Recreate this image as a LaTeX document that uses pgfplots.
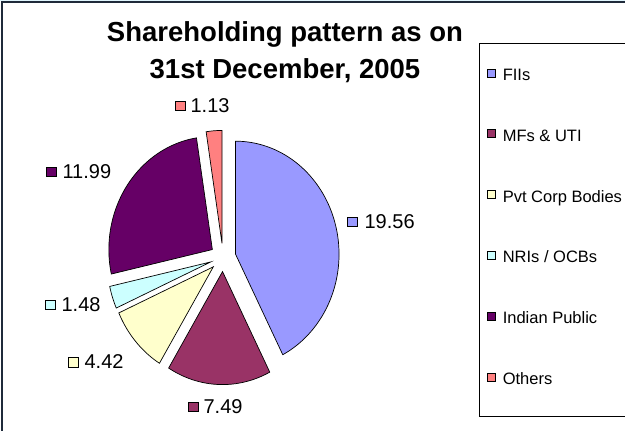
\documentclass[border=0pt]{standalone}
\usepackage{fontspec}
\setmainfont{Liberation Sans}
\usepackage{pgfplots}
\usepackage{pgfplotstable}
\pgfplotsset{compat=1.18}
\definecolor{cFII}{HTML}{9999FF}
\definecolor{cMF}{HTML}{993366}
\definecolor{cPvt}{HTML}{FFFFCC}
\definecolor{cNRI}{HTML}{CCFFFF}
\definecolor{cInd}{HTML}{660066}
\definecolor{cOth}{HTML}{FF8080}
\definecolor{frame}{HTML}{1F2A3A}

\pgfplotstableread[col sep=comma]{
name,value
FIIs,19.56
MFsUTI,7.49
PvtCorp,4.42
NRIsOCBs,1.48
IndianPublic,11.99
Others,1.13
}\sharedata

\newcommand\keybox[1]{\raisebox{2.4pt}{\setlength\fboxsep{0pt}\setlength\fboxrule{0.7pt}\fcolorbox{black}{#1}{\rule{0pt}{9pt}\rule{9pt}{0pt}}}}
\newcommand\lblfont{\fontsize{20}{22}\selectfont}

\def\cx{223}\def\cy{173.5}\def\rx{103.5}\def\ry{113}\def\ex{12.9}\def\ey{14.1}

\begin{document}
\begin{tikzpicture}
\useasboundingbox (0,0) rectangle (625pt,431pt);
\gdef\total{0}
\foreach \i in {0,...,5}{%
  \pgfplotstablegetelem{\i}{value}\of\sharedata
  \pgfmathparse{\total+\pgfplotsretval}\xdef\total{\pgfmathresult}}
\gdef\cum{90}
\foreach \i in {0,...,5}{%
  \pgfplotstablegetelem{\i}{value}\of\sharedata
  \pgfmathsetmacro\sweep{360*\pgfplotsretval/\total}
  \pgfmathsetmacro\endang{\cum-\sweep}
  \pgfmathsetmacro\midang{\cum-0.5*\sweep}
  \pgfmathsetmacro\apx{\cx+\ex*cos(\midang)}
  \pgfmathsetmacro\apy{\cy+\ey*sin(\midang)}
  \expandafter\xdef\csname st\i\endcsname{\cum}
  \expandafter\xdef\csname en\i\endcsname{\endang}
  \expandafter\xdef\csname ax\i\endcsname{\apx}
  \expandafter\xdef\csname ay\i\endcsname{\apy}
  \xdef\cum{\endang}
}
\begin{axis}[
  x=1pt, y=1pt, xmin=0, xmax=625, ymin=0, ymax=431,
  scale only axis, hide axis, clip=false,
  anchor=origin, at={(0,0)},
  legend cell align=left,
  legend image code/.code={\draw[#1, line width=0.6pt] (0pt,-0.5pt) rectangle (8pt,7.5pt);},
  legend style={draw=none, fill=none, at={(axis cs:487,362.5)}, anchor=north west,
    inner sep=0pt, row sep=46pt, column sep=7pt, font=\fontsize{16.5}{18}\selectfont,
    nodes={text height=11pt, text depth=3pt, inner ysep=0pt, inner xsep=0pt}},
]
% frame of the chart area
\fill[cyan!12] (axis cs:0,429.5) rectangle (axis cs:625,431);
\draw[frame, line width=1.2pt] (axis cs:2,-5) -- (axis cs:2,429) -- (axis cs:640,429);
% legend box
\draw[black, line width=0.8pt] (axis cs:479,15) rectangle (axis cs:660,388);

\foreach \i/\c in {0/cFII,1/cMF,2/cPvt,3/cNRI,4/cInd,5/cOth}{%
  \edef\temp{\noexpand\addplot[draw=black, line width=0.7pt, fill=\c,
     domain=\csname en\i\endcsname:\csname st\i\endcsname, samples=90]
     ({\csname ax\i\endcsname+\rx*cos(x)},{\csname ay\i\endcsname+\ry*sin(x)})
     -- (axis cs:\csname ax\i\endcsname,\csname ay\i\endcsname) -- cycle;}%
  \temp
}
\legend{FIIs,MFs \& UTI,Pvt Corp Bodies,NRIs / OCBs,Indian Public,Others}

% title
\node[anchor=base, font=\bfseries\fontsize{27.5}{30}\selectfont] at (axis cs:285,389.3) {Shareholding pattern as on};
\node[anchor=base, font=\bfseries\fontsize{27.5}{30}\selectfont] at (axis cs:285,352.7) {31st December, 2005};

% data labels
\node[anchor=west, inner sep=0pt, font=\lblfont] at (axis cs:347,209) {\keybox{cFII}\hspace{7pt}19.56};
\node[anchor=west, inner sep=0pt, font=\lblfont] at (axis cs:188,24) {\keybox{cMF}\hspace{5pt}7.49};
\node[anchor=west, inner sep=0pt, font=\lblfont] at (axis cs:68,69) {\keybox{cPvt}\hspace{6pt}4.42};
\node[anchor=west, inner sep=0pt, font=\lblfont] at (axis cs:45,126) {\keybox{cNRI}\hspace{6pt}1.48};
\node[anchor=west, inner sep=0pt, font=\lblfont] at (axis cs:46,259) {\keybox{cInd}\hspace{6pt}11.99};
\node[anchor=west, inner sep=0pt, font=\lblfont] at (axis cs:175,325) {\keybox{cOth}\hspace{5pt}1.13};
\end{axis}
\end{tikzpicture}
\end{document}
